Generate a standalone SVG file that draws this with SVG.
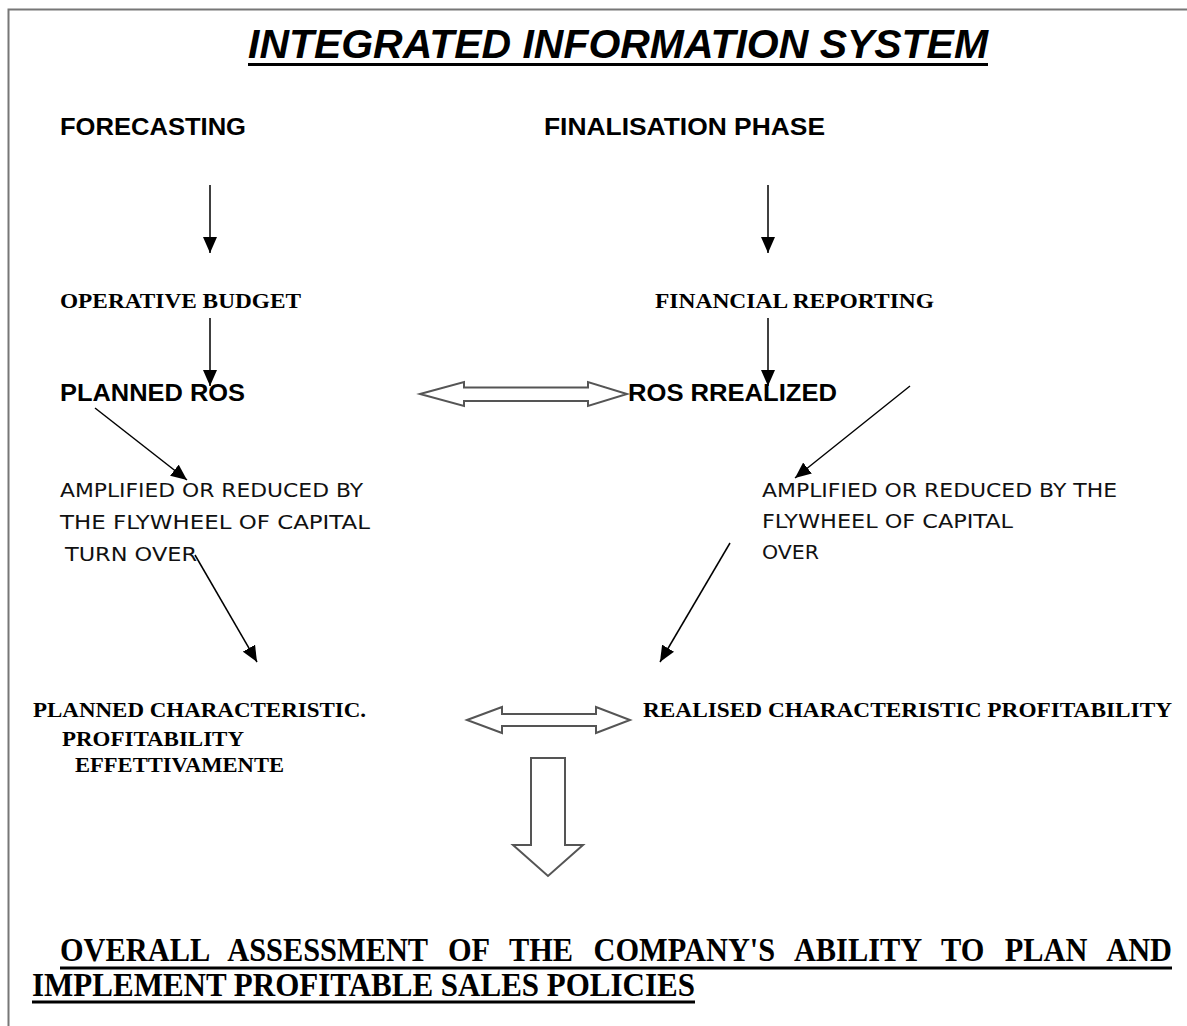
<svg xmlns="http://www.w3.org/2000/svg" width="1187" height="1026" viewBox="0 0 1187 1026">
<style>
.sans{font-family:"Liberation Sans",Arial,sans-serif;font-weight:bold;fill:#000}
.serif{font-family:"Liberation Serif","Times New Roman",serif;font-weight:bold;fill:#000}
.hand{font-family:"DejaVu Sans","Liberation Sans",sans-serif;font-weight:normal;fill:#111}
.ln{stroke:#000;stroke-width:1.5;fill:none}
.blk{fill:#fff;stroke:#555;stroke-width:2}
</style>
<defs>
<marker id="ah" viewBox="0 0 16 14" refX="16" refY="7" markerWidth="16" markerHeight="14" markerUnits="userSpaceOnUse" orient="auto">
<path d="M0,0 L16,7 L0,14 z" fill="#000"/>
</marker>
</defs>
<rect width="1187" height="1026" fill="#fff"/>
<path d="M8.5,1026 V9.5 H1187" stroke="#777" stroke-width="2" fill="none"/>

<g id="title">
<text class="sans" x="248" y="58" font-size="41" font-style="italic" textLength="740" lengthAdjust="spacingAndGlyphs">INTEGRATED INFORMATION SYSTEM</text>
<line x1="248" y1="64.5" x2="988" y2="64.5" stroke="#000" stroke-width="3"/>
</g>

<g id="forecasting"><text class="sans" x="60" y="135" font-size="23" textLength="186" lengthAdjust="spacingAndGlyphs">FORECASTING</text></g>
<g id="finalisation"><text class="sans" x="544" y="135" font-size="23" textLength="281" lengthAdjust="spacingAndGlyphs">FINALISATION PHASE</text></g>
<g id="operative-budget"><text class="serif" x="60" y="308" font-size="21" textLength="241" lengthAdjust="spacingAndGlyphs">OPERATIVE BUDGET</text></g>
<g id="financial-reporting"><text class="serif" x="655" y="308" font-size="21" textLength="279" lengthAdjust="spacingAndGlyphs">FINANCIAL REPORTING</text></g>
<g id="planned-ros"><text class="sans" x="60" y="401" font-size="23" textLength="185" lengthAdjust="spacingAndGlyphs">PLANNED ROS</text></g>
<g id="ros-realized"><text class="sans" x="628" y="401" font-size="23" textLength="209" lengthAdjust="spacingAndGlyphs">ROS RREALIZED</text></g>

<g id="amplified-left">
<text class="hand" x="60" y="497" font-size="20" textLength="303" lengthAdjust="spacingAndGlyphs">AMPLIFIED OR REDUCED BY</text>
<text class="hand" x="60" y="529" font-size="20" textLength="310" lengthAdjust="spacingAndGlyphs">THE FLYWHEEL OF CAPITAL</text>
<text class="hand" x="65" y="561" font-size="20" textLength="132" lengthAdjust="spacingAndGlyphs">TURN OVER</text>
</g>
<g id="amplified-right">
<text class="hand" x="762" y="497" font-size="20" textLength="355" lengthAdjust="spacingAndGlyphs">AMPLIFIED OR REDUCED BY THE</text>
<text class="hand" x="762" y="528" font-size="20" textLength="251" lengthAdjust="spacingAndGlyphs">FLYWHEEL OF CAPITAL</text>
<text class="hand" x="762" y="559" font-size="20" textLength="57" lengthAdjust="spacingAndGlyphs">OVER</text>
</g>

<g id="planned-characteristic">
<text class="serif" x="33" y="717" font-size="22" textLength="333" lengthAdjust="spacingAndGlyphs">PLANNED CHARACTERISTIC.</text>
<text class="serif" x="62" y="746" font-size="22" textLength="182" lengthAdjust="spacingAndGlyphs">PROFITABILITY</text>
<text class="serif" x="75" y="772" font-size="22" textLength="209" lengthAdjust="spacingAndGlyphs">EFFETTIVAMENTE</text>
</g>
<g id="realised-characteristic">
<text class="serif" x="643" y="717" font-size="22" textLength="529" lengthAdjust="spacingAndGlyphs">REALISED CHARACTERISTIC PROFITABILITY</text>
</g>

<g id="overall-assessment">
<text class="serif" x="60" y="961" font-size="33" word-spacing="14" textLength="1112" lengthAdjust="spacingAndGlyphs">OVERALL ASSESSMENT OF THE COMPANY'S ABILITY TO PLAN AND</text>
<line x1="60" y1="968" x2="1172" y2="968" stroke="#000" stroke-width="3"/>
<text class="serif" x="32" y="996" font-size="33" textLength="663" lengthAdjust="spacingAndGlyphs">IMPLEMENT PROFITABLE SALES POLICIES</text>
<line x1="32" y1="1002" x2="695" y2="1002" stroke="#000" stroke-width="3"/>
</g>

<g id="connectors">
<line class="ln" x1="210" y1="185" x2="210" y2="253" marker-end="url(#ah)"/>
<line class="ln" x1="210" y1="318" x2="210" y2="386" marker-end="url(#ah)"/>
<line class="ln" x1="768" y1="185" x2="768" y2="253" marker-end="url(#ah)"/>
<line class="ln" x1="768" y1="318" x2="768" y2="386" marker-end="url(#ah)"/>
<line class="ln" x1="95" y1="408" x2="187" y2="480" marker-end="url(#ah)"/>
<line class="ln" x1="195" y1="555" x2="257" y2="662" marker-end="url(#ah)"/>
<line class="ln" x1="910" y1="386" x2="795" y2="478" marker-end="url(#ah)"/>
<line class="ln" x1="730" y1="543" x2="660" y2="662" marker-end="url(#ah)"/>
<polygon class="blk" points="420,394 464,382 464,387.5 588,387.5 588,382 627,394 588,406 588,401 464,401 464,406"/>
<polygon class="blk" points="467,720 502,707 502,714 596,714 596,707 630,720 596,733 596,726 502,726 502,733"/>
<polygon class="blk" points="531,758 565,758 565,845 583,845 548,876 513,845 531,845"/>
</g>
</svg>
